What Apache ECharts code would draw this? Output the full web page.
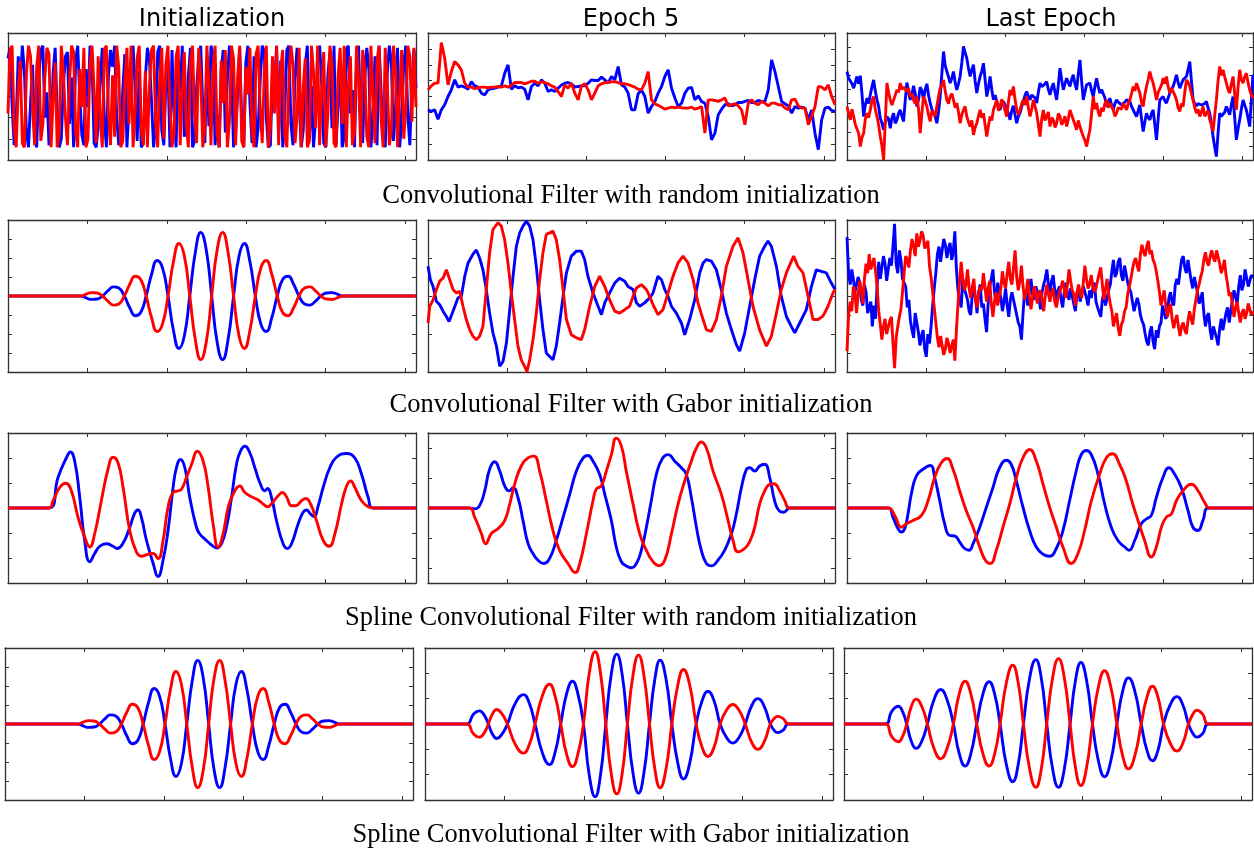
<!DOCTYPE html>
<html><head><meta charset="utf-8">
<script src="https://cdn.jsdelivr.net/npm/echarts@6.0.0/dist/echarts.min.js"></script>
<style>html,body{margin:0;padding:0;background:#fff}#c{width:1254px;height:848px}</style>
</head><body><div id="c"></div>
<script>
const X_MAX = 257;
const colTitles = ['Initialization', 'Epoch 5', 'Last Epoch'];
const rowCaptions = ['Convolutional Filter with random initialization', 'Convolutional Filter with Gabor initialization', 'Spline Convolutional Filter with random initialization', 'Spline Convolutional Filter with Gabor initialization'];

// Row 1: convolutional filter, random init (evenly sampled values)
const convRandInitBlue = [1.8,2.3,-0.4,-2.3,-1.1,1.9,0.6,2.4,1.2,-1.7,-2.4,-0.3,1.5,-2.1,-2.4,0.8,2.2,2.4,-1.0,0.2,-2.3,-1.6,1.1,2.3,-0.7,-2.4,-2.0,0.5,1.9,2.1,-1.3,0.9,-2.4,1.7,2.4,0.0,-1.8,-2.3,1.3,-0.5,2.4,1.6,-2.2,-2.4,-1.4,0.7,2.3,-1.1,-2.4,1.0,2.2,1.4,2.4,-0.9,-2.3,-1.7,0.3,2.0,-2.4,-0.6,1.6,2.4,0.4,-2.1,1.2,-2.4,-2.2,0.9,2.3,1.7,-0.2,-2.4,-1.3,2.1,2.4,-1.6,-2.3,0.6,1.4,-2.4,2.2,-0.8,-2.4,1.8,0.2,2.4,-1.9,-1.2,1.0,2.3,-2.4,-2.1,0.4,1.9,2.4,-0.5,-2.2,1.5,-1.4,2.4,2.0,-2.3,-0.9,-2.4,1.3,2.2,-1.7,0.8,2.4,1.1,-2.4,-1.8,0.1,2.3,-1.2,-2.4,1.6,2.4,-0.3,-2.2,1.9,-2.4,-1.5,0.7,2.4,2.1,-1.0,-2.4,-2.3,1.2,0.3,2.4,-1.8,1.7,-2.4,-0.7,2.2,2.4,-1.3,-2.3,0.9,2.3,-0.1,-2.4,-1.6,1.5,2.4,-2.0,0.5,-2.4,-1.1,1.8,2.4,0.6,-2.2,-2.4,1.0,2.1,-1.5,2.4,-2.3,-0.4,1.4,-2.4,-1.9,2.2,2.4,-0.8,0.3,-2.4,1.7,2.4,-1.4,-2.2,0.8,2.3,1.3,-2.4,-1.0,1.9,-2.3,2.4,0.2,-1.7,-2.4,1.1,2.4,1.6,-2.1,-0.6,2.3,-2.4,-1.2,1.5,2.4,-0.9,-2.3,0.7,2.2,0.4];
const convRandInitRed = [-0.8,2.2,2.4,-1.5,-2.4,0.4,1.7,-2.2,-2.4,1.1,2.4,1.9,-0.6,-2.3,1.4,2.4,-2.1,-1.3,0.9,2.3,2.0,-2.4,-0.2,1.6,-2.4,-1.8,2.4,1.2,-1.0,-2.3,0.7,2.4,2.1,-1.7,-2.4,1.3,-0.5,2.3,-2.4,-2.0,1.5,2.4,0.3,-2.2,1.9,-1.1,-2.4,2.2,2.4,-0.8,-2.3,1.0,-1.9,2.4,1.4,-2.4,-2.1,0.6,2.3,-1.3,2.4,-2.4,-0.7,1.8,2.4,-1.6,-2.3,1.2,-2.4,0.5,2.2,2.4,-1.2,-2.4,0.8,2.3,-2.0,1.5,2.4,-0.4,-2.4,-1.7,1.9,2.4,-2.3,0.2,2.1,-1.4,-2.4,1.6,2.4,-0.9,-2.2,2.3,1.0,-2.4,-1.5,2.4,0.6,-2.3,1.3,2.4,-1.8,-2.4,1.7,-0.3,2.2,-2.4,-1.2,2.4,1.8,-2.3,0.9,2.4,-2.1,-2.4,1.4,0.1,2.3,-1.6,-2.4,2.0,2.4,-0.6,-2.2,1.1,2.4,-2.4,-1.4,1.9,-0.8,2.4,-2.3,1.3,2.2,-1.9,-2.4,0.7,2.4,1.5,-2.2,-1.0,2.3,-2.4,0.4,1.8,-2.4,-2.1,2.4,1.2,-1.5,2.4,-2.3,0.3,2.1,-2.4,-0.9,2.4,1.6,-2.2,-2.4,1.0,2.3,-1.3,2.4,-2.4,0.5,1.9,-2.3,-1.7,2.4,0.8,-2.4,2.2,1.4,-1.9,-2.4,2.4,0.0,-2.2,1.7,2.4,-1.1,-2.4,2.3,0.6,-2.3,-1.6,2.4,1.3,-2.4,0.2,2.2,-2.0,-0.7,2.4,1.9,-1.2,2.3,-0.5];
const convRandEp5Blue = [-0.84,-0.94,-0.84,-1.43,-0.84,-0.52,0,0.42,1.05,0.59,0.67,0.59,0.46,0.94,0.67,0.59,0.21,0.10,0.42,0.50,0.52,0.59,0.67,1.47,1.99,0.46,0.67,0.55,0.59,0.46,-0.21,0.63,0.84,0.67,1.05,0.84,0.31,0.42,0.31,0.52,0.73,0.84,0.88,0.80,0.59,0.63,0.67,0.67,0.84,1.05,1.01,1.01,1.22,1.05,0.84,1.26,1.05,1.89,0.73,0.59,0.21,-0.84,-0.84,0.17,0.42,0,-1.05,-0.63,-0.31,0.21,0.63,1.26,1.68,0.52,-0.10,-0.63,-0.42,0.21,0.52,0.57,-0.21,0.04,-0.31,-0.42,-1.26,-2.73,-2.31,-1.15,-0.80,-0.52,-0.46,-0.59,-0.52,-0.38,-0.38,-0.31,-0.25,-0.38,-0.38,-0.25,-0.31,-0.31,0.42,2.31,1.57,0.63,-0.31,-0.46,-0.59,-1.05,-0.63,-0.73,-0.67,-0.73,-1.47,-0.84,-2.31,-3.35,-1.47,-0.73,-0.67,-0.88,-0.94];
const convRandEp5Red = [0.42,0.67,0.84,0.84,3.40,2.41,0.73,1.57,2.20,1.99,1.68,0.84,0.59,0.59,0.50,0.55,0.59,0.59,0.55,0.59,0.59,0.63,0.59,0.67,0.59,0.71,0.88,0.88,0.88,0.80,0.88,0.96,0.96,0.84,0.92,0.88,0.80,0.67,0.59,0.31,0,0.73,0.52,0.84,0.21,-0.21,0.67,0.80,0.42,-0.21,0.21,0.67,0.80,0.88,0.88,0.92,0.94,0.88,0.80,0.80,0.75,0.67,0.59,0.46,0.42,0.84,1.57,-0.21,-0.46,-0.55,-0.67,-0.80,-0.73,-0.67,-0.71,-0.67,-0.71,-0.73,-0.73,-0.67,-0.80,-0.73,-0.63,-2.31,-0.21,-0.21,-0.25,-0.31,-0.21,-0.10,-0.59,-0.52,-0.46,-0.59,-0.84,-1.78,-0.42,-0.21,-0.42,-0.52,-0.31,-0.42,-0.59,-0.42,-0.42,-0.52,-0.52,-0.73,-0.84,-0.21,-0.17,-0.59,-0.73,-0.73,-1.78,-1.26,-0.63,0.63,0.59,0.42,0.73,0,-0.52];
const convRandLastBlue = [1.77,1.3,1.18,0.9,0.59,1.0,1.42,0.9,1.47,0.2,-1.42,-0.6,-0.12,-0.5,0.12,0.7,1.18,0.4,-0.24,-0.7,-1.54,-1.9,-2.36,-1.8,-1.42,-1.6,-2.25,-1.5,-1.18,-1.9,-1.65,-1.2,-0.95,-1.4,-1.77,-0.3,0.99,0.3,-0.24,0.1,0.76,0.2,-0.71,-0.2,0.66,0.4,-0.24,0.5,0.90,0.1,-0.47,-0.9,-1.18,-1.4,-1.89,-1.1,0,1.6,3.19,2.2,1.77,1.4,0.95,1.3,1.77,1.0,0.47,0.9,1.42,2.4,3.55,3.1,2.72,2.0,1.42,1.9,2.25,1.1,0.24,0.9,1.42,1.8,2.36,1.2,0,0.6,1.42,0.5,-0.24,0.1,-0.35,-0.7,-0.95,-0.5,-0.35,-0.6,-0.71,-1.2,-1.65,-1.0,-0.66,-1.3,-1.89,-1.4,-1.18,-0.7,-0.35,0.1,0.35,0.0,-0.24,0.1,0.24,-0.1,-0.47,0.3,0.95,0.7,0.66,0.9,1.06,0.5,0.12,0.6,0.95,0.3,-0.24,0.8,2.01,1.2,0.47,0.9,1.30,1.0,0.71,1.2,1.54,0.9,0.47,1.6,2.60,1.1,-0.24,0.3,0.83,0.9,0.95,0.4,0,0.7,1.30,0.7,0.24,0.5,0.59,-0.1,-0.71,-0.4,-0.12,-0.6,-0.95,-0.5,-0.24,-0.4,-0.47,-0.6,-0.71,-0.4,-0.24,-0.3,-0.35,-0.7,-0.95,-1.2,-1.42,-1.0,-0.59,-1.6,-2.48,-1.8,-1.18,-1.5,-1.65,-1.2,-0.95,-2.0,-3.07,-1.6,-0.24,-0.1,0,-0.3,-0.47,-0.1,0.24,0.5,0.71,1.1,1.54,1.0,0.59,0.9,1.18,1.3,1.42,1.9,2.48,1.1,-0.24,-0.5,-0.66,-0.5,-0.47,-0.6,-0.71,-0.5,-0.35,-0.8,-1.18,-1.9,-2.84,-3.6,-4.26,-2.6,-1.18,-1.4,-1.54,-1.1,-0.71,-1.0,-1.30,-0.6,0,-1.5,-3.07,-2.3,-1.65,-0.9,-0.24,-0.6,-0.95,-1.5,-2.13,-0.3,1.54];
const convRandLastRed = [-0.71,-1.2,-1.65,-0.9,-1.42,-2.0,-2.13,-2.6,-3.55,-2.9,-2.60,-1.6,-1.18,-1.5,-0.95,-0.3,0,-0.9,-1.42,-2.0,-2.84,-3.5,-4.49,-1.8,0.95,0.3,-0.24,-0.6,-0.71,0.1,0.47,0.3,0.95,0.5,0.66,0.8,0.35,0.6,0,0.2,-0.24,-0.5,0,-0.9,-2.60,-1.2,0,-0.3,-0.71,-1.3,-1.77,-1.0,-1.18,-1.4,-0.71,0.0,0.59,0.8,1.18,0.4,-0.24,-0.5,0,0.2,-0.24,-0.8,-0.47,-1.1,-1.89,-1.3,-0.95,-0.7,-1.42,-1.8,-2.13,-1.7,-2.72,-2.2,-1.89,-1.4,-0.95,-1.5,-1.18,-2.0,-2.84,-2.1,-1.42,-1.7,-0.95,-0.6,-0.24,-1.0,-0.71,-0.2,-0.47,-1.0,-1.42,-0.4,0.47,0.1,0.71,-0.2,-0.95,-1.3,-0.95,-0.5,-0.24,-0.6,0,-0.8,-1.42,-0.9,-0.24,-0.7,-1.18,-2.0,-2.84,-1.6,-0.95,-1.7,-1.42,-1.1,-2.13,-1.5,-1.65,-2.2,-1.89,-1.2,-1.42,-2.0,-1.77,-1.4,-2.13,-1.6,-0.95,-1.3,-1.65,-2.0,-2.36,-1.7,-2.13,-2.5,-2.84,-3.1,-3.55,-2.9,-2.36,-1.2,0,-0.9,-0.47,-1.1,-1.42,-0.8,-1.06,-0.5,-0.24,-0.8,-0.47,-0.6,-0.95,-1.4,-1.18,-0.8,-0.71,-0.9,-0.47,-0.6,-0.95,-0.5,-0.24,0.2,0.71,0.4,0.95,0.6,0.24,-0.4,-0.71,0.1,0.71,1.2,1.77,1.3,0.95,0.4,-0.24,0.3,0.24,0.8,1.30,0.9,1.42,0.7,0.24,0.6,0.59,0.1,-0.24,-0.8,-1.06,-0.5,-0.71,0.3,1.18,1.0,0.71,0.2,-0.24,-0.8,-1.18,-0.9,-1.42,-1.1,-0.71,-1.4,-1.18,-1.0,-1.65,-2.0,-2.48,-1.3,-0.24,1.1,2.13,1.5,1.89,1.4,0.95,0.5,0.24,0.9,1.42,0.2,-0.95,0.6,1.89,1.2,0.95,1.4,1.65,1.0,0.47,0.1,-0.12];

// Row 2: convolutional filter, Gabor init
const gaborX = [0,45.7,49.2,52.6,56.1,59.5,62.9,66.4,69.8,73.3,76.7,80.1,83.6,87.0,90.5,93.9,97.3,100.8,104.2,107.7,111.1,114.5,118.0,121.4,124.9,128.3,131.7,135.2,138.6,142.1,145.5,148.9,152.4,155.8,159.3,162.7,166.1,169.6,173.0,176.5,179.9,183.3,186.8,190.2,193.7,197.1,200.5,204.0,207.4,210.9,257];
const gaborInitBlue = [0,0,-0.10,-0.18,-0.16,0,0.27,0.48,0.42,0,-0.62,-1.04,-0.87,0,1.16,1.87,1.48,0,-1.80,-2.76,-2.09,0,2.30,3.35,2.41,0,-2.41,-3.35,-2.30,0,2.09,2.76,1.80,0,-1.48,-1.87,-1.16,0,0.87,1.04,0.62,0,-0.42,-0.48,-0.27,0,0.16,0.18,0.10,0,0];
const gaborInitRed = [0,0,0.10,0.18,0.16,0,-0.27,-0.48,-0.42,0,0.62,1.04,0.87,0,-1.16,-1.87,-1.48,0,1.80,2.76,2.09,0,-2.30,-3.35,-2.41,0,2.41,3.35,2.30,0,-2.09,-2.76,-1.80,0,1.48,1.87,1.16,0,-0.87,-1.04,-0.62,0,0.42,0.48,0.27,0,-0.16,-0.18,-0.10,0,0];
const convGaborEp5Blue = [[0.0,0.78],[1.5,0.43],[3.2,0.25],[5.3,-0.14],[7.4,-0.23],[9.5,-0.40],[11.6,-0.54],[13.3,-0.67],[15.8,-0.40],[18.9,-0.05],[21.1,0.0],[23.2,0.52],[25.3,0.87],[28.4,1.10],[30.5,1.21],[32.6,1.00],[34.7,0.69],[36.8,0.17],[38.9,-0.45],[41.0,-0.97],[43.2,-1.32],[45.3,-1.85],[47.4,-1.72],[49.5,-1.24],[51.6,-0.36],[53.7,0.52],[55.8,1.31],[57.9,1.66],[60.0,1.84],[62.1,1.97],[64.2,1.84],[66.3,1.48],[68.4,0.78],[70.5,-0.10],[72.6,-0.89],[74.7,-1.50],[76.8,-1.59],[78.9,-1.68],[81.0,-1.32],[83.1,-0.71],[85.3,-0.01],[87.4,0.61],[90.5,1.05],[93.7,1.18],[96.8,1.18],[98.9,0.96],[101.0,0.52],[104.2,0.08],[107.4,-0.27],[109.5,-0.49],[111.6,-0.18],[114.7,0.08],[117.9,0.34],[121.0,0.47],[124.2,0.39],[126.3,0.25],[129.5,0.17],[131.6,-0.18],[133.7,-0.27],[136.8,-0.18],[140.0,-0.05],[142.1,0.08],[145.2,0.52],[147.4,0.43],[149.5,0.17],[151.6,-0.01],[153.7,-0.27],[156.8,-0.45],[160.0,-0.71],[162.1,-1.02],[165.2,-0.62],[168.4,-0.10],[171.6,0.61],[173.7,0.87],[175.8,0.96],[178.9,0.92],[182.1,0.69],[185.2,0.17],[188.4,-0.45],[191.6,-0.89],[194.7,-1.28],[196.8,-1.45],[200.0,-0.97],[203.1,-0.27],[206.3,0.43],[209.4,1.05],[212.6,1.31],[214.7,1.45],[216.8,1.31],[220.0,0.78],[223.1,-0.01],[226.3,-0.54],[229.4,-0.80],[231.6,-0.97],[234.7,-0.71],[238.9,-0.36],[242.1,0.25],[245.2,0.69],[248.4,0.65],[251.5,0.61],[254.7,0.34],[257.0,0.17]];
const convGaborEp5Red = [[0.0,-0.71],[1.1,-0.27],[3.2,-0.10],[5.3,0.17],[7.4,0.39],[9.5,0.47],[11.6,0.69],[13.7,0.43],[15.8,0.17],[17.9,0.08],[20.0,0.12],[22.1,-0.27],[24.2,-0.62],[26.3,-0.89],[28.4,-1.06],[30.5,-1.15],[32.6,-1.06],[34.7,-0.80],[36.8,0.17],[38.9,1.14],[41.0,1.75],[44.2,1.93],[46.3,1.84],[48.4,1.48],[50.5,0.87],[52.6,0.08],[54.7,-0.62],[56.8,-1.32],[58.9,-1.68],[61.0,-1.85],[62.5,-1.99],[64.2,-1.68],[66.3,-1.15],[68.4,-0.45],[70.5,0.43],[72.6,1.14],[74.7,1.62],[76.8,1.66],[78.9,1.71],[81.0,1.48],[83.1,0.96],[85.3,0.17],[87.4,-0.62],[90.5,-1.02],[93.7,-1.10],[96.8,-1.15],[98.9,-0.89],[102.1,-0.27],[105.3,0.25],[108.4,0.52],[111.6,0.25],[114.7,-0.10],[117.9,-0.40],[121.0,-0.45],[124.2,-0.36],[127.3,-0.27],[129.5,-0.01],[131.6,0.21],[134.7,0.30],[137.9,0.17],[140.0,-0.01],[142.1,-0.23],[145.2,-0.49],[148.4,-0.36],[151.6,0.08],[154.7,0.52],[157.9,0.87],[161.0,1.05],[164.2,0.87],[167.4,0.43],[170.5,-0.18],[173.7,-0.62],[175.8,-0.89],[178.9,-0.93],[182.1,-0.62],[185.2,-0.01],[188.4,0.78],[192.6,1.31],[195.8,1.53],[198.9,1.14],[202.1,0.43],[205.2,-0.27],[209.4,-0.89],[213.7,-1.32],[216.8,-1.06],[220.0,-0.45],[223.1,0.17],[226.3,0.61],[229.4,0.91],[230.9,1.05],[233.6,0.78],[236.8,0.61],[240.0,-0.01],[243.1,-0.62],[246.3,-0.62],[249.4,-0.53],[252.6,-0.27],[255.7,0.08],[257.0,0.17]];
const convGaborLastBlue = [3.1,1.2,0.6,1.4,0.9,0.2,0.1,1.0,0.7,-0.2,-0.5,0.6,0.2,-0.9,-0.6,-0.3,-1.6,-0.5,-1.2,0.6,1.8,0.9,1.0,2.1,1.7,0.8,0.9,2.0,1.6,2.6,3.8,1.7,1.2,2.4,1.9,0.9,0.8,0.5,-0.6,-0.2,-1.3,-1.8,-2.2,-0.9,-1.4,-1.9,-2.6,-2.1,-1.8,-2.8,-3.2,-2.0,-2.5,-1.6,-0.5,0.4,1.2,2.2,2.6,1.8,2.4,3.0,2.7,2.0,2.5,2.8,1.9,2.3,3.4,1.4,0.3,-0.2,-0.6,0.9,0.4,0.5,-0.2,-0.8,-1.0,0.1,0.3,-0.1,-0.9,0.2,0.6,-0.6,-0.4,-1.2,-1.9,-0.4,0.5,0.9,1.4,0.2,-0.3,0.7,0.8,-0.1,-0.8,-0.3,0.4,-0.5,-1.1,-0.2,0.2,0.1,-0.6,-1.0,-1.4,-1.6,-2.3,-0.9,0.3,0.1,-0.5,0.4,0.9,0.1,-0.2,0.5,0.4,0.0,-0.7,0.2,0.6,0.9,1.4,0.6,0.2,0.8,1.1,0.3,-0.3,0.3,0.5,-0.2,-0.6,0.2,0.7,0.1,-0.2,0.4,0.3,-0.4,-0.8,0.1,0.4,-0.3,-0.2,0.5,0.6,-0.1,-0.5,0.3,-0.1,0.4,0.7,-0.3,-0.6,-0.5,-1.1,-0.2,0.2,-0.5,-0.4,0.3,0.6,1.3,1.9,1.0,1.2,1.8,2.0,1.1,0.8,1.6,1.5,0.7,0.4,0.2,-0.3,-0.8,-0.9,-0.1,-0.4,-1.0,-1.3,-1.5,-2.0,-2.4,-2.6,-1.9,-1.6,-2.4,-2.8,-1.8,-2.2,-1.6,-1.4,-0.5,-0.6,-1.2,-1.0,-0.1,0.2,-0.3,-0.5,0.6,0.9,0.6,1.3,1.9,2.1,1.5,1.2,1.9,1.8,0.8,0.4,1.0,1.0,0.2,-0.4,-0.2,0.2,-0.9,-1.6,-1.1,-0.9,-1.8,-2.3,-1.6,-1.5,-2.2,-2.6,-1.7,-1.2,-1.8,-1.9,-0.9,-0.6,-1.4,-1.3,-0.2,0.3,0.2,-0.4,0.5,1.1,0.3,0.6,1.4,1.3,0.5,0.4,1.1,1.0];
const convGaborLastRed = [-2.9,-1.0,-0.3,-0.8,0.5,0.2,-0.9,0.1,0.8,0.3,-0.4,0.9,1.7,1.2,2.2,1.4,1.5,2.0,1.3,0.5,-0.8,-1.5,-2.3,-1.6,-1.2,-2.0,-1.9,-1.3,-1.1,-2.5,-3.8,-2.2,-1.6,-1.1,-0.7,0.2,1.2,2.1,1.9,1.5,2.4,3.0,2.6,2.1,3.3,2.6,2.9,3.4,3.2,2.5,2.7,2.9,1.6,1.0,0.2,-0.6,-1.4,-2.2,-2.7,-2.1,-2.6,-3.1,-2.8,-2.2,-2.5,-3.0,-2.9,-2.3,-3.4,-1.8,-0.4,0.8,1.8,0.9,0.3,0.6,1.4,0.4,-0.1,0.5,0.9,-0.2,-0.6,0.1,0.5,0.3,1.2,0.5,-0.3,0.4,0.8,-0.4,-1.1,-0.3,0.2,-0.5,-0.6,0.4,1.3,0.7,0.4,1.2,1.8,0.9,0.6,1.5,2.4,1.0,0.3,0.8,1.6,0.5,-0.2,0.2,0.9,0.0,-0.7,-0.1,0.5,0.2,-0.4,0.1,0.3,-0.2,-0.8,0.0,0.6,0.1,-0.3,0.2,0.4,-0.3,-0.6,-0.1,0.2,0.5,0.8,0.3,-0.1,0.6,1.4,0.8,0.3,0.1,-0.5,0.2,0.6,0.1,-0.1,0.7,1.6,0.9,0.4,0.6,1.1,0.5,0.2,0.4,0.8,1.2,1.5,0.6,-0.2,0.4,0.9,0.1,-0.4,-0.8,-1.6,-1.2,-0.9,-1.7,-2.1,-1.5,-1.3,-0.8,-0.6,0.1,0.5,0.9,1.4,1.8,2.0,1.6,1.3,2.2,2.7,2.3,2.1,2.6,2.9,2.2,2.4,1.9,1.7,1.3,0.8,0.2,-0.5,-0.1,0.3,-0.5,-1.1,-0.7,-0.4,-1.2,-1.7,-1.3,-1.0,-1.6,-2.1,-1.6,-1.4,-1.8,-2.0,-1.3,-0.8,-1.2,-1.5,-0.7,-0.2,0.3,0.6,1.0,1.3,1.9,2.3,1.8,1.6,2.1,2.4,2.0,1.8,2.4,2.3,1.7,1.2,1.5,1.9,1.1,0.6,0.0,0.2,-0.5,-1.1,-0.6,-0.3,-0.9,-1.4,-0.9,-0.7,-1.2,-0.9,-0.4,-0.5,-1.0,-0.8];

// Row 3: spline filter, random init
const splRandInitBlue = [[0,0],[25.8,0],[31.5,1.22],[36.8,2.01],[39.3,2.24],[42.0,1.88],[45.2,0.42],[48.3,-1.30],[51.5,-2.15],[54.6,-1.82],[57.8,-1.53],[62.0,-1.43],[66.2,-1.53],[68.7,-1.62],[72.5,-1.40],[76.7,-0.77],[79.8,-0.21],[81.9,-0.08],[84.0,-0.37],[87.2,-1.29],[91.4,-2.21],[94.5,-2.74],[97.7,-2.08],[100.8,-0.90],[104.0,0.82],[106.1,1.61],[108.6,1.94],[111.4,1.61],[114.5,0.42],[118.7,-0.77],[120.8,-1.04],[125.0,-1.30],[129.2,-1.53],[131.7,-1.60],[134.5,-1.43],[137.6,-0.77],[140.8,0.42],[143.9,1.74],[146.4,2.27],[149.2,2.47],[152.3,2.21],[155.5,1.61],[158.6,1.02],[161.8,0.69],[163.5,0.78],[166.0,0.42],[169.1,-0.50],[173.3,-1.43],[175.9,-1.62],[178.6,-1.43],[182.8,-0.63],[185.9,-0.17],[188.0,-0.08],[190.6,-0.24],[192.7,-0.34],[195.4,0.09],[198.5,0.82],[202.7,1.61],[206.9,2.03],[213.3,2.18],[218.5,2.0],[222.7,1.35],[226.9,0.42],[230.1,0],[257,0]];
const splRandInitRed = [[0,0],[25.8,0],[28.4,0.29],[32.6,0.82],[36.3,0.99],[39.9,0.69],[44.1,-0.37],[48.3,-1.16],[51.5,-1.56],[54.6,-1.03],[58.8,0.29],[63.0,1.55],[66.2,2.03],[69.3,1.81],[72.5,0.82],[76.7,-0.90],[80.9,-1.76],[84.0,-1.93],[88.2,-1.85],[91.4,-1.82],[94.5,-2.02],[97.7,-1.29],[100.8,0.03],[104.0,0.62],[107.2,0.69],[109.3,0.75],[112.4,1.22],[115.6,1.74],[119.3,2.27],[122.9,1.88],[126.1,0.82],[129.2,-0.63],[132.4,-1.56],[135.5,-1.03],[138.7,0.03],[141.8,0.55],[146.0,0.88],[149.2,0.62],[153.4,0.45],[157.6,0.32],[160.7,0.16],[163.5,0.05],[166.6,0.22],[170.2,0.49],[172.9,0.62],[175.4,0.45],[178.6,0.09],[181.3,0.09],[184.9,0.29],[187.6,0.38],[190.6,0.16],[194.3,-0.50],[198.5,-1.29],[202.3,-1.53],[205.9,-1.03],[210.1,0.16],[213.3,0.88],[215.8,1.08],[218.5,0.82],[222.7,0.29],[226.9,0.05],[230.1,0],[257,0]];
const splRandEp5Blue = [[0,0],[25.9,0],[29.5,-0.03],[32.6,0.08],[35.8,0.57],[38.9,1.29],[42.1,1.54],[45.3,1.23],[48.4,0.74],[51.2,0.57],[53.7,0.68],[56.8,0.35],[60.0,-0.42],[63.2,-1.19],[66.3,-1.52],[69.5,-1.74],[73.0,-1.85],[76.8,-1.68],[81.0,-1.08],[85.3,-0.31],[89.5,0.46],[93.7,1.23],[97.9,1.66],[101.0,1.75],[104.2,1.56],[108.4,1.12],[111.6,0.46],[115.8,-0.42],[118.9,-1.30],[122.1,-1.79],[125.2,-1.93],[128.4,-1.99],[131.6,-1.85],[134.7,-1.41],[137.9,-0.64],[141.0,0.24],[144.2,1.12],[148.0,1.65],[151.6,1.78],[155.8,1.56],[160.0,1.34],[163.1,1.12],[166.3,0.35],[169.5,-0.64],[172.6,-1.41],[175.8,-1.85],[178.9,-1.93],[183.1,-1.74],[187.3,-1.41],[191.6,-0.86],[194.7,-0.20],[197.9,0.68],[201.0,1.28],[203.1,1.34],[206.3,1.23],[209.4,1.40],[212.6,1.46],[215.8,1.01],[218.9,0.24],[221.7,-0.09],[224.6,-0.14],[228.4,0],[257,0]];
const splRandEp5Red = [[0,0],[25.9,0],[29.5,-0.31],[33.7,-0.85],[36.4,-1.19],[40.0,-0.85],[44.2,-0.69],[48.4,-0.42],[51.6,0.13],[54.7,0.79],[58.9,1.40],[63.2,1.67],[66.9,1.73],[70.5,1.23],[74.7,0.24],[78.9,-0.75],[83.1,-1.41],[88.4,-1.85],[93.0,-2.15],[95.8,-1.85],[100.0,-0.86],[104.2,0.24],[106.3,0.63],[109.5,0.74],[112.6,1.23],[115.8,1.78],[118.9,2.33],[122.1,2.06],[125.2,1.23],[129.5,0.13],[133.7,-0.86],[137.9,-1.41],[142.1,-1.79],[145.7,-1.92],[149.5,-1.74],[153.7,-0.86],[157.9,0.13],[162.1,0.90],[166.3,1.56],[169.5,2.00],[172.6,2.20],[175.8,2.00],[180.0,1.23],[185.2,0.46],[189.5,-0.42],[192.6,-1.08],[195.8,-1.46],[200.0,-1.35],[203.1,-1.13],[206.3,-0.64],[209.4,0.13],[212.6,0.57],[215.8,0.79],[218.5,0.81],[222.1,0.57],[225.3,0.24],[228.4,0],[257,0]];
const splRandLastBlue = [[0,0],[26.0,0],[29.1,-0.37],[32.3,-0.83],[34.4,-0.96],[36.5,-0.83],[38.6,-0.24],[40.7,0.55],[43.9,1.28],[48.1,1.55],[52.8,1.70],[55.5,1.22],[58.7,0.29],[61.8,-0.63],[65.0,-1.10],[68.2,-1.12],[71.3,-1.36],[74.5,-1.62],[77.2,-1.69],[79.8,-1.43],[84.0,-0.77],[88.2,0.03],[92.4,0.82],[96.6,1.61],[100.9,1.91],[104.0,1.74],[107.2,1.08],[111.4,0.03],[115.6,-0.90],[119.8,-1.56],[124.1,-1.85],[128.3,-1.93],[132.5,-1.62],[136.7,-0.90],[140.9,0.29],[145.1,1.48],[148.3,2.14],[151.5,2.30],[154.6,2.14],[158.9,1.35],[163.1,0.16],[167.3,-0.77],[171.5,-1.30],[175.8,-1.56],[178.5,-1.69],[182.1,-1.30],[186.3,-0.63],[189.5,-0.44],[192.6,-0.30],[195.8,0.42],[200.0,1.22],[203.8,1.61],[207.4,1.35],[211.6,0.82],[215.9,-0.11],[219.0,-0.77],[222.2,-0.90],[225.3,-0.50],[229.1,0],[257,0]];
const splRandLastRed = [[0,0],[26.0,0],[30.2,-0.30],[34.4,-0.77],[37.6,-0.63],[41.8,-0.50],[47.1,-0.30],[51.3,0.29],[55.5,1.22],[59.7,1.81],[63.3,1.98],[67.1,1.55],[71.3,0.69],[75.5,-0.11],[79.8,-0.77],[84.0,-1.56],[87.6,-2.09],[90.7,-2.22],[94.5,-1.69],[98.7,-0.77],[103.0,0.16],[107.2,1.22],[111.4,2.01],[115.6,2.34],[119.8,1.88],[124.1,0.95],[128.3,0.03],[132.5,-0.77],[136.7,-1.56],[142.0,-2.22],[146.2,-1.82],[150.4,-0.90],[154.7,0.29],[159.9,1.35],[164.2,2.01],[168.0,2.17],[172.6,1.74],[176.8,1.08],[180.6,0.22],[184.2,-0.50],[188.4,-1.30],[192.6,-1.96],[195.8,-1.56],[199.0,-0.77],[202.1,-0.37],[205.3,-0.24],[208.5,0.29],[212.7,0.69],[218.0,0.95],[222.2,0.69],[226.4,0.22],[229.6,0],[257,0]];

// Row 4: spline filter, Gabor init
const splGaborEp5X = [0,26.3,30.3,34.2,37.1,39.9,42.5,45.2,48.5,51.9,56.9,62.0,65.7,69.3,73.9,78.4,81.9,85.5,89.2,92.9,96.3,99.8,103.5,107.2,110.5,113.9,117.3,120.8,124.2,127.5,131.0,134.5,137.9,141.4,144.8,148.1,151.8,155.5,159.2,162.8,166.8,170.8,174.5,178.2,182.1,185.9,189.9,193.9,197.8,201.7,205.7,209.7,213.6,217.5,219.8,222.1,225.6,229.0,257];
const splGaborEp5Blue = [0,0,0.37,0.52,0.37,0,-0.40,-0.57,-0.40,0,0.82,1.16,0.82,0,-1.13,-1.60,-1.13,0,1.19,1.69,1.19,0,-2.03,-2.87,-2.03,0,1.95,2.76,1.95,0,-1.93,-2.73,-1.93,0,1.78,2.52,1.78,0,-1.53,-2.17,-1.53,0,0.91,1.29,0.91,0,-0.53,-0.75,-0.53,0,0.71,1.0,0.71,0,-0.24,-0.34,-0.24,0,0];
const splGaborEp5Red = [0,0,-0.37,-0.52,-0.37,0,0.40,0.57,0.40,0,-0.81,-1.15,-0.81,0,1.11,1.57,1.11,0,-1.19,-1.68,-1.19,0,2.02,2.85,2.02,0,-1.95,-2.76,-1.95,0,1.92,2.72,1.92,0,-1.78,-2.52,-1.78,0,1.52,2.15,1.52,0,-0.91,-1.28,-0.91,0,0.54,0.77,0.54,0,-0.71,-1.0,-0.71,0,0.21,0.30,0.21,0,0];
const splGaborLastX = [0,25.8,30.0,34.2,36.9,39.5,42.4,45.4,49.0,52.5,56.7,60.9,64.9,68.9,72.6,76.3,79.9,83.6,87.5,91.4,94.9,98.3,102.3,106.3,109.7,113.0,116.9,120.8,124.3,127.7,131.4,135.1,138.8,142.4,145.8,149.2,152.8,156.5,160.3,164.1,168.0,171.9,175.5,179.2,183.2,187.2,190.8,194.3,197.8,201.3,205.5,209.7,213.4,217.0,219.7,222.3,226.0,229.6,257];
const splGaborLastBlue = [0,0,0.49,0.70,0.49,0,-0.68,-0.96,-0.68,0,0.96,1.36,0.96,0,-1.17,-1.66,-1.17,0,1.18,1.67,1.18,0,-1.61,-2.28,-1.61,0,1.80,2.54,1.80,0,-1.77,-2.50,-1.77,0,1.72,2.43,1.72,0,-1.47,-2.08,-1.47,0,1.29,1.82,1.29,0,-1.03,-1.45,-1.03,0,0.76,1.08,0.76,0,-0.37,-0.52,-0.37,0,0];
const splGaborLastRed = [0,0,-0.49,-0.70,-0.49,0,0.69,0.98,0.69,0,-0.97,-1.37,-0.97,0,1.19,1.69,1.19,0,-1.17,-1.66,-1.17,0,1.64,2.32,1.64,0,-1.77,-2.50,-1.77,0,1.82,2.58,1.82,0,-1.72,-2.43,-1.72,0,1.48,2.10,1.48,0,-1.25,-1.77,-1.25,0,1.05,1.49,1.05,0,-0.76,-1.07,-0.76,0,0.38,0.54,0.38,0,0];

function indexed(arr) { const s = X_MAX / (arr.length - 1); return arr.map((v, i) => [i * s, v]); }
function zipXY(xs, ys) { return xs.map((x, i) => [x, ys[i]]); }

const colLeft = [8, 428, 847], colWidth = [408, 407, 406];
const row4Left = [5, 425, 844], row4Width = [408, 408, 408];
const rowTop = [33, 220, 433, 648], rowHeight = [127, 152, 150, 152];

const panels = [
  {r:0,c:0,yMax:3,yInt:1,smooth:false,blue:indexed(convRandInitBlue),red:indexed(convRandInitRed)},
  {r:0,c:1,yMax:4,yInt:1,smooth:false,blue:indexed(convRandEp5Blue),red:indexed(convRandEp5Red)},
  {r:0,c:2,yMax:4.5,yInt:1,smooth:false,blue:indexed(convRandLastBlue),red:indexed(convRandLastRed)},
  {r:1,c:0,yMax:4,yInt:1,smooth:0.5,blue:zipXY(gaborX,gaborInitBlue),red:zipXY(gaborX,gaborInitRed)},
  {r:1,c:1,yMax:2,yInt:1,smooth:false,blue:convGaborEp5Blue,red:convGaborEp5Red},
  {r:1,c:2,yMax:4,yInt:1,smooth:false,blue:indexed(convGaborLastBlue),red:indexed(convGaborLastRed)},
  {r:2,c:0,yMax:3,yInt:1,smooth:0.5,blue:splRandInitBlue,red:splRandInitRed},
  {r:2,c:1,yMax:2.5,yInt:null,smooth:0.5,blue:splRandEp5Blue,red:splRandEp5Red},
  {r:2,c:2,yMax:3,yInt:1,smooth:0.5,blue:splRandLastBlue,red:splRandLastRed},
  {r:3,c:0,yMax:4,yInt:1,smooth:0.5,blue:zipXY(gaborX,gaborInitBlue),red:zipXY(gaborX,gaborInitRed)},
  {r:3,c:1,yMax:3,yInt:1,smooth:0.5,blue:zipXY(splGaborEp5X,splGaborEp5Blue),red:zipXY(splGaborEp5X,splGaborEp5Red)},
  {r:3,c:2,yMax:3,yInt:1,smooth:0.5,blue:zipXY(splGaborLastX,splGaborLastBlue),red:zipXY(splGaborLastX,splGaborLastRed)}
];

const frame = {show:true, onZero:false, lineStyle:{color:'#333', width:1.3}};
const tick = {show:true, inside:true, length:4, lineStyle:{color:'#333', width:1}};
const grids = [], xAxes = [], yAxes = [], series = [];
panels.forEach((p, i) => {
  const left = p.r === 3 ? row4Left[p.c] : colLeft[p.c];
  const width = p.r === 3 ? row4Width[p.c] : colWidth[p.c];
  grids.push({left:left, top:rowTop[p.r], width:width, height:rowHeight[p.r], show:false});
  ['bottom','top'].forEach(pos => xAxes.push({gridIndex:i, type:'value', position:pos, min:0, max:X_MAX, interval:50,
    axisLine:frame, axisTick:tick, axisLabel:{show:false}, splitLine:{show:false}}));
  ['left','right'].forEach(pos => {
    const ax = {gridIndex:i, type:'value', position:pos, min:-p.yMax, max:p.yMax,
      axisLine:frame, axisTick:tick, axisLabel:{show:false}, splitLine:{show:false}};
    if (p.yInt) ax.interval = p.yInt; else ax.splitNumber = 5;
    yAxes.push(ax);
  });
  [['#0000ff', p.blue], ['#ff0000', p.red]].forEach(([col, data]) => series.push({
    type:'line', xAxisIndex:2*i, yAxisIndex:2*i, data:data, smooth:p.smooth, symbol:'none', showSymbol:false,
    lineStyle:{color:col, width:2.9}, itemStyle:{color:col}, animation:false, silent:true
  }));
});

const graphics = [];
const titleX = [212, 631, 1051];
colTitles.forEach((t, k) => graphics.push({type:'text', x:titleX[k], y:20,
  style:{text:t, font:"24px 'DejaVu Sans'", fill:'#000', align:'center', verticalAlign:'middle', textAlign:'center', textVerticalAlign:'middle'}}));
const capY = [196, 405, 618, 835];
rowCaptions.forEach((t, k) => graphics.push({type:'text', x:631, y:capY[k],
  style:{text:t, font:"26.5px 'Liberation Serif'", fill:'#000', align:'center', verticalAlign:'middle', textAlign:'center', textVerticalAlign:'middle'}}));

const chart = echarts.init(document.getElementById('c'), null, {renderer:'canvas'});
chart.setOption({animation:false, backgroundColor:'#fff', grid:grids, xAxis:xAxes, yAxis:yAxes, series:series, graphic:graphics});
</script></body></html>
